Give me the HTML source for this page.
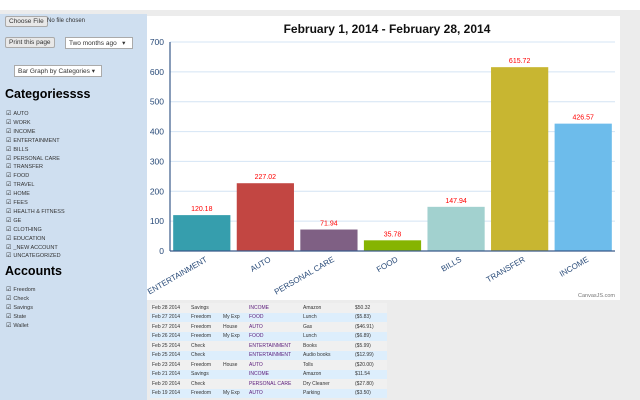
<!DOCTYPE html>
<html><head><meta charset="utf-8">
<style>
body{margin:0;width:640px;height:400px;overflow:hidden;background:#fff;font-family:"Liberation Sans",sans-serif;position:relative}
#top{position:absolute;left:0;top:10px;width:640px;height:390px;background:#ececec}
#side{position:absolute;left:0;top:14px;width:147px;height:386px;background:#cfdff0;font-size:6px;color:#333}
.btn{position:absolute;font-size:6.5px;background:#e8e8e8;border:1px solid #aaa;padding:1px 3px;border-radius:2px}
.sel{position:absolute;font-size:6.5px;background:#fff;border:1px solid #aaa;padding:1px 3px}
h2{position:absolute;margin:0;font-size:12.5px;font-weight:bold;color:#000}
.cb{position:absolute;left:6px;font-size:5.5px;color:#333}
.cb:before{content:"☑";font-size:6px;margin-right:2px}
#chart{position:absolute;left:147px;top:16px;width:473px;height:284px;background:#fff}
#tbl{position:absolute;left:150px;top:303px;font-size:5px;color:#333;border-collapse:collapse}
#tbl td{padding:0 2px;height:9.5px;white-space:nowrap}
#tbl tr:nth-child(odd){background:#f0f0f0}
#tbl tr:nth-child(even){background:#ddeefc}
.cat{color:#5a1a7a}
</style></head><body>
<div id="top"></div>
<div id="side">
<div class="btn" style="left:5px;top:2px">Choose File</div>
<div style="position:absolute;left:47px;top:4px;font-size:6px">No file chosen</div>
<div class="btn" style="left:5px;top:23px">Print this page</div>
<div class="sel" style="left:65px;top:23px;width:60px">Two months ago &nbsp;&nbsp;▾</div>
<div class="sel" style="left:14px;top:51px;width:80px">Bar Graph by Categories ▾</div>
<h2 style="left:5px;top:73px">Categoriessss</h2>
<div id="cats"></div>
<h2 style="left:5px;top:250px">Accounts</h2>
<div id="accs"></div>
</div>
<div id="chart">
<svg id="svg" width="473" height="284"></svg>
</div>
<table id="tbl"></table>
<script>
const categories=["ENTERTAINMENT","AUTO","PERSONAL CARE","FOOD","BILLS","TRANSFER","INCOME"];
const values=[120.18,227.02,71.94,35.78,147.94,615.72,426.57];
const colors=["#369ead","#c24642","#7f6084","#86b402","#a2d1cf","#c8b631","#6dbceb"];
const ticks=[0,100,200,300,400,500,600,700];
const catList=["AUTO","WORK","INCOME","ENTERTAINMENT","BILLS","PERSONAL CARE","TRANSFER","FOOD","TRAVEL","HOME","FEES","HEALTH & FITNESS","GE","CLOTHING","EDUCATION","_NEW ACCOUNT","UNCATEGORIZED"];
const accList=["Freedom","Check","Savings","State","Wallet"];
const rows=[["Feb 28 2014","Savings","","INCOME","Amazon","$50.32"],["Feb 27 2014","Freedom","My Exp","FOOD","Lunch","($5.83)"],["Feb 27 2014","Freedom","House","AUTO","Gas","($46.91)"],["Feb 26 2014","Freedom","My Exp","FOOD","Lunch","($6.89)"],["Feb 25 2014","Check","","ENTERTAINMENT","Books","($5.99)"],["Feb 25 2014","Check","","ENTERTAINMENT","Audio books","($12.99)"],["Feb 23 2014","Freedom","House","AUTO","Tolls","($20.00)"],["Feb 21 2014","Savings","","INCOME","Amazon","$11.54"],["Feb 20 2014","Check","","PERSONAL CARE","Dry Cleaner","($27.80)"],["Feb 19 2014","Freedom","My Exp","AUTO","Parking","($3.50)"]];

const cats=document.getElementById('cats');
catList.forEach((c,i)=>{const d=document.createElement('div');d.className='cb';d.style.top=(96+i*8.9)+'px';d.textContent=c;


cats.appendChild(d);});
const accs=document.getElementById('accs');
accList.forEach((c,i)=>{const d=document.createElement('div');d.className='cb';d.style.top=(272+i*9)+'px';d.textContent=c;


accs.appendChild(d);});
const tb=document.getElementById('tbl');
rows.forEach(r=>{const tr=document.createElement('tr');


const w=[35,28,22,50,48,30];
r.forEach((v,i)=>{const td=document.createElement('td');td.textContent=v;td.style.width=w[i]+'px';if(i==3)td.className='cat';tr.appendChild(td);});tb.appendChild(tr);});

const NS="http://www.w3.org/2000/svg";const svg=document.getElementById('svg');
const X0=23,X1=468,Y0=235,Y1=26,MAX=700;
const y=v=>Y0-(v/MAX)*(Y0-Y1);
const bw=(X1-X0)/categories.length;
const xc=i=>X0+bw*(i+0.5);
function el(t,a,p){const e=document.createElementNS(NS,t);for(const k in a)e.setAttribute(k,a[k]);(p||svg).appendChild(e);return e;}
let t=el('text',{x:240,y:17,'text-anchor':'middle','font-size':12,'font-weight':'bold',fill:'#111','font-family':'Liberation Sans'});t.textContent='February 1, 2014 - February 28, 2014';


ticks.forEach(v=>{
 const g=el('line',{x1:X0,x2:X1,y1:y(v),y2:y(v),stroke:'#d4e4f4','stroke-width':1});
 
 
 const l=el('text',{x:X0-6,y:y(v)+3,'text-anchor':'end','font-size':8.5,fill:'#284a78'});l.textContent=v;
 
 
});
categories.forEach((c,i)=>{
 const r=el('rect',{x:xc(i)-bw*0.45,y:y(values[i]),width:bw*0.9,height:Y0-y(values[i]),fill:colors[i]});
 
 
 const v=el('text',{x:xc(i),y:y(values[i])-4,'text-anchor':'middle','font-size':7,fill:'#f00'});v.textContent=values[i].toFixed(2);
 
 
 const l=el('text',{x:xc(i)+6,y:Y0+10,'text-anchor':'end','font-size':8,fill:'#284a78',transform:`rotate(-30 ${xc(i)+6} ${Y0+10})`});l.textContent=c;
 
 
});
const ax=el('line',{x1:X0,x2:X1,y1:Y0,y2:Y0,stroke:'#3a5a8a','stroke-width':1.2});


const ay=el('line',{x1:X0,x2:X0,y1:Y1,y2:Y0,stroke:'#3a5a8a','stroke-width':1.2});


const cr=el('text',{x:468,y:281,'text-anchor':'end','font-size':5.5,fill:'#777'});cr.textContent='CanvasJS.com';


</script>
</body></html>
